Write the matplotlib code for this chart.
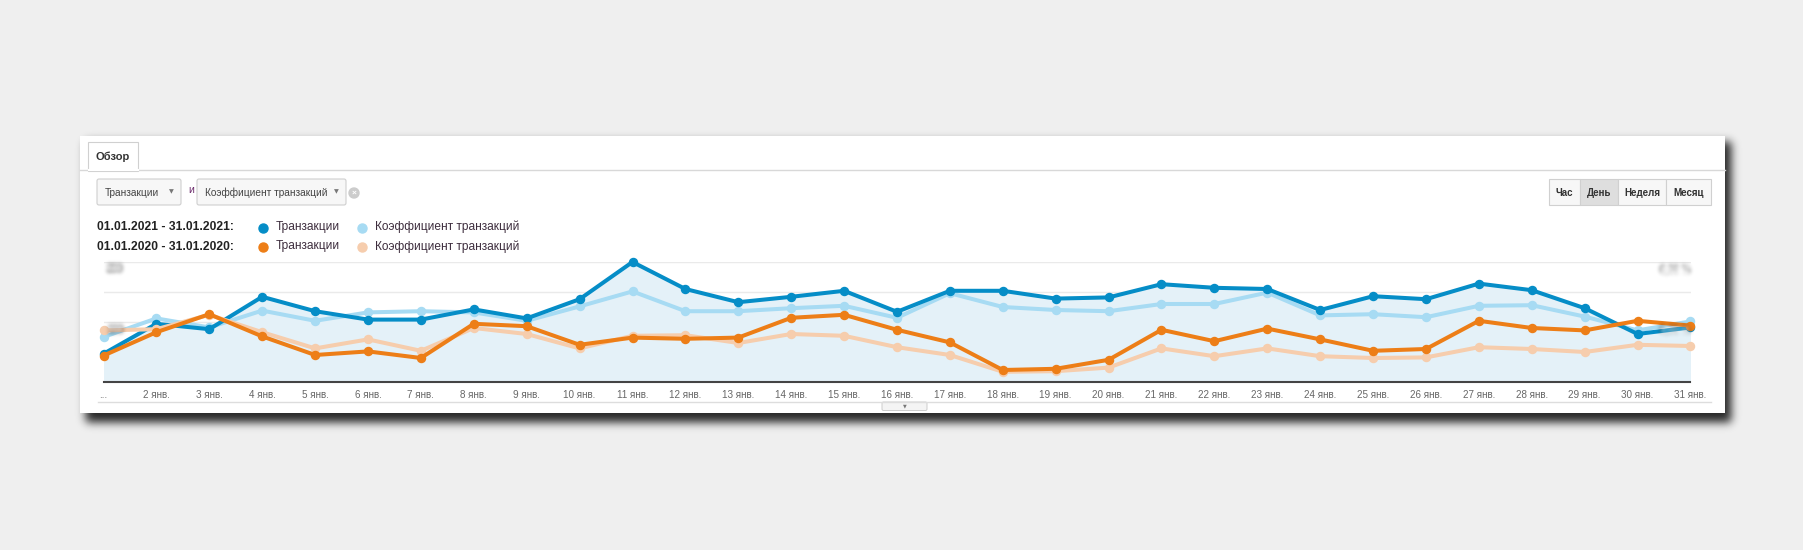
import numpy as np
import matplotlib
matplotlib.use('Agg')
import matplotlib.pyplot as plt
from matplotlib.patches import Rectangle, FancyBboxPatch, Circle

# ── Data ───────────────────────────────────────────────────
days = list(range(1, 32))
tick_labels = ['...'] + [f'{d} янв.' for d in range(2, 32)]

trans_2021 = [47, 97, 88, 142, 118, 104, 104, 121, 106, 138, 200,
              155, 133, 142, 152, 117, 152, 152, 139, 141, 163,
              157, 155, 120, 143, 138, 164, 153, 123, 80, 91]
coef_2021 = [0.75, 1.06, 0.91, 1.19, 1.02, 1.16, 1.18, 1.16, 1.02, 1.26, 1.51,
             1.18, 1.18, 1.23, 1.27, 1.07, 1.48, 1.25, 1.20, 1.18, 1.30,
             1.30, 1.49, 1.11, 1.13, 1.08, 1.27, 1.28, 1.09, 0.86, 1.01]
trans_2020 = [44, 83, 113, 76, 45, 51, 40, 97, 93, 62, 74,
              72, 74, 107, 112, 87, 66, 20, 22, 37, 87,
              68, 89, 71, 52, 55, 102, 90, 86, 102, 94]
coef_2020 = [0.86, 0.88, 1.12, 0.83, 0.56, 0.71, 0.52, 0.90, 0.80, 0.56, 0.77,
             0.78, 0.65, 0.80, 0.77, 0.58, 0.45, 0.17, 0.18, 0.24, 0.56,
             0.43, 0.56, 0.43, 0.40, 0.41, 0.58, 0.55, 0.50, 0.62, 0.60]

period_a = '01.01.2021 - 31.01.2021:'
period_b = '01.01.2020 - 31.01.2020:'
metric_a = 'Транзакции'
metric_b = 'Коэффициент транзакций'
buttons = ['Час', 'День', 'Неделя', 'Месяц']
left_labels = ['200', '100']
right_labels = ['0,00 %', '0,00 %']

# ── Colours ────────────────────────────────────────────────
BLUE = '#058dc7'
LBLUE = '#a7dbf3'
ORANGE = '#ed7e17'
LORANGE = '#f6cdad'
FILL = '#e4f1f8'
BG = '#efefef'
TXT = '#3d2d3d'

plt.rcParams['font.family'] = ['Liberation Sans', 'DejaVu Sans']

W, H = 1803, 550
fig = plt.figure(figsize=(W / 100, H / 100), dpi=100, facecolor=BG)
ax0 = fig.add_axes([0, 0, 1, 1], zorder=0)
ax0.set_xlim(0, W)
ax0.set_ylim(H, 0)
ax0.axis('off')


def blur(sigma):
    def f(im, dpi):
        pad = int(sigma * 3) + 1
        a = np.pad(im, ((pad, pad), (pad, pad), (0, 0)))
        k = np.exp(-0.5 * (np.arange(-pad, pad + 1) / sigma) ** 2)
        k /= k.sum()
        a = np.apply_along_axis(lambda m: np.convolve(m, k, mode='same'), 0, a)
        a = np.apply_along_axis(lambda m: np.convolve(m, k, mode='same'), 1, a)
        return a, -pad, -pad
    return f


# panel shadow + panel
sh = Rectangle((86, 142), 1645, 280, color='#1c1c1c', alpha=0.95, lw=0)
sh.set_agg_filter(blur(4.5))
ax0.add_patch(sh)
ax0.add_patch(Rectangle((80, 136), 1645, 277, color='white', lw=0))

# tab
ax0.plot([80, 1725], [170, 170], color='#d8d8d8', lw=1)
ax0.add_patch(Rectangle((88, 142), 50, 28.5, facecolor='white',
                        edgecolor='#d0d0d0', lw=0.8))
ax0.plot([88.5, 137.5], [170, 170], color='white', lw=1.5)
ax0.text(96, 157, 'Обзор', fontsize=8, fontweight='bold', color='#333',
         va='center', ha='left')


def dropdown(x0, x1, label):
    ax0.add_patch(FancyBboxPatch((x0, 179), x1 - x0, 26,
                                 boxstyle='round,pad=0,rounding_size=2',
                                 facecolor='#f7f7f7', edgecolor='#cfcfcf', lw=0.8))
    ax0.text(x0 + 8, 193, label, fontsize=7.3, color='#444', va='center')
    ax0.text(x1 - 10, 192, '▼', fontsize=4.5, color='#777', va='center',
             ha='center', family=['DejaVu Sans'])


dropdown(97, 181, metric_a)
ax0.text(188, 190, 'и', fontsize=7.5, color='#6b2a6b', va='center')
dropdown(197, 346, metric_b)
ax0.add_patch(Circle((354, 193), 5, color='#cccccc'))
ax0.text(354, 193, '×', fontsize=6, color='white', ha='center', va='center',
         fontweight='bold')

# period buttons
edges = [1549, 1580, 1618, 1666, 1711]
for i, b in enumerate(buttons):
    fc = '#dedede' if b == 'День' else '#f7f7f7'
    ax0.add_patch(Rectangle((edges[i], 179), edges[i + 1] - edges[i], 26,
                            facecolor=fc, edgecolor='#d0d0d0', lw=0.8))
    ax0.text((edges[i] + edges[i + 1]) / 2, 192.5, b, fontsize=7,
             fontweight='bold', color='#333', ha='center', va='center')

# legend rows
for y, period, c1, c2 in [(227, period_a, BLUE, LBLUE), (246.5, period_b, ORANGE, LORANGE)]:
    ax0.text(97, y, period, fontsize=8.7, fontweight='bold', color='#222',
             va='center')
    ax0.plot(263, y + 0.5, 'o', color=c1, markersize=6.5)
    ax0.text(276, y, metric_a, fontsize=8.6, color=TXT, va='center')
    ax0.plot(362, y + 0.5, 'o', color=c2, markersize=6.5)
    ax0.text(375, y, metric_b, fontsize=8.6, color=TXT, va='center')

# bottom rule and collapse button
ax0.plot([98, 1711], [402, 402], color='#dddddd', lw=1)
ax0.add_patch(FancyBboxPatch((882, 402), 45, 8.5,
                             boxstyle='round,pad=0,rounding_size=1.5',
                             facecolor='#f4f4f4', edgecolor='#cccccc', lw=0.7))
ax0.text(904.5, 406, '▼', fontsize=3.5, color='#777', ha='center', va='center',
         family=['DejaVu Sans'])

# ── Chart ──────────────────────────────────────────────────
x_left, x_right, y_top, y_bot = 103.5, 1690.5, 262, 382
ax = fig.add_axes([x_left / W, 1 - y_bot / H, (x_right - x_left) / W,
                   (y_bot - y_top) / H], zorder=1)
ax.patch.set_alpha(0)
ax.set_xlim(1, 31)
ax.set_ylim(0, 200)
ax2 = ax.twinx()          # right scale for the conversion rate (%)
ax2.set_ylim(0, 2.0)
ax2.axis('off')

ax.set_yticks([0, 50, 100, 150, 200])
ax.yaxis.grid(True, color='#eaeaea', lw=1)
ax.set_axisbelow(True)
ax.tick_params(axis='y', length=0, labelleft=False)
for s in ('top', 'left', 'right'):
    ax.spines[s].set_visible(False)
ax.spines['bottom'].set_color('#444444')
ax.spines['bottom'].set_linewidth(1.5)

ax.set_xticks(days)
ax.set_xticklabels(tick_labels, fontsize=7.1, color='#666')
ax.tick_params(axis='x', length=0, pad=6)

ax.fill_between(days, trans_2021, 0, color=FILL, lw=0, zorder=1)
style = dict(lw=2.9, marker='o', ms=5.8, clip_on=False, solid_joinstyle='round')
ax.plot(days, coef_2021, color=LBLUE, zorder=2, transform=ax2.transData, **style)
ax.plot(days, trans_2021, color=BLUE, zorder=3, **style)
ax.plot(days, coef_2020, color=LORANGE, zorder=4, transform=ax2.transData, **style)
ax.plot(days, trans_2020, color=ORANGE, zorder=5, **style)

# blurred axis labels (obscured in the original screenshot)
ov = fig.add_axes([0, 0, 1, 1], zorder=5)
ov.set_xlim(0, W)
ov.set_ylim(H, 0)
ov.axis('off')
for lab, y in zip(left_labels, [269, 330]):
    t = ov.text(107, y, lab, fontsize=7, color='#a8a8a8', ha='left',
                va='center', fontweight='bold')
    t.set_agg_filter(blur(2.0))
for lab, y in zip(right_labels, [269, 330]):
    t = ov.text(1690, y, lab, fontsize=7, color='#a8a8a8', ha='right',
                va='center', fontweight='bold')
    t.set_agg_filter(blur(2.0))

fig.savefig('out.png', dpi=100, facecolor=BG)
